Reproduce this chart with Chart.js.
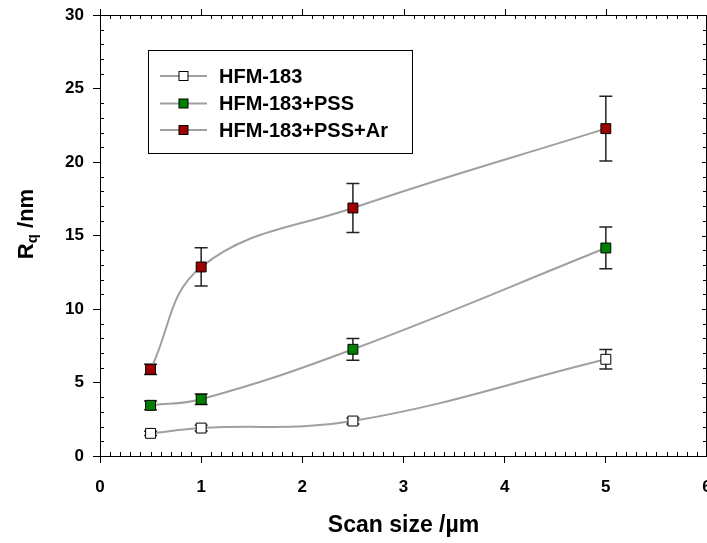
<!DOCTYPE html>
<html>
<head>
<meta charset="utf-8">
<script src="https://cdn.jsdelivr.net/npm/chart.js@4.4.1/dist/chart.umd.min.js"></script>
<style>
  html, body { margin: 0; padding: 0; background: #fff; overflow: hidden; }
  #wrap { position: relative; width: 707px; height: 543px; overflow: hidden; }
  canvas { display: block; }
</style>
</head>
<body>
<div id="wrap"><canvas id="c" width="715" height="543"></canvas></div>
<script>
// ---- data ----
const scanSizes = [0.5, 1, 2.5, 5];
const seriesNames = ['HFM-183', 'HFM-183+PSS', 'HFM-183+PSS+Ar'];
const hfmValues = [1.54, 1.90, 2.38, 6.58];
const hfmErrors = [0.15, 0.20, 0.20, 0.67];
const pssValues = [3.45, 3.86, 7.26, 14.15];
const pssErrors = [0.30, 0.35, 0.74, 1.42];
const arValues = [5.90, 12.86, 16.87, 22.27];
const arErrors = [0.35, 1.30, 1.66, 2.21];
const xTicks = [0, 1, 2, 3, 4, 5, 6];
const yTicks = [0, 5, 10, 15, 20, 25, 30];
const xTitle = 'Scan size /\u00b5m';
const yTitleMain = 'R';
const yTitleSub = 'q';
const yTitleRest = ' /nm';

const FONT = "'Liberation Sans', Arial, sans-serif";
const markerFill = ['#ffffff', '#008000', '#a00000'];

function toPoints(vals) { return scanSizes.map((x, i) => ({ x: x, y: vals[i] })); }
const allErrors = [hfmErrors, pssErrors, arErrors];

const datasets = [hfmValues, pssValues, arValues].map((vals, k) => ({
  label: seriesNames[k],
  data: toPoints(vals),
  showLine: true,
  borderColor: '#a0a0a0',
  borderWidth: 2,
  tension: 0.4,
  pointStyle: 'rect',
  pointRadius: 7,
  pointHoverRadius: 7,
  pointBackgroundColor: markerFill[k],
  pointBorderColor: '#000000',
  pointBorderWidth: 1,
  errors: allErrors[k]
}));

// error bars drawn through the scales, under lines and markers
const errorBarPlugin = {
  id: 'errorBars',
  beforeDatasetsDraw(chart) {
    const ctx = chart.ctx;
    const xs = chart.scales.x, ys = chart.scales.y;
    ctx.save();
    ctx.strokeStyle = '#222';
    ctx.lineWidth = 1.5;
    chart.data.datasets.forEach((ds) => {
      ds.data.forEach((p, i) => {
        const e = ds.errors[i];
        const px = xs.getPixelForValue(p.x);
        const top = ys.getPixelForValue(p.y + e);
        const bot = ys.getPixelForValue(p.y - e);
        ctx.beginPath();
        ctx.moveTo(px, top); ctx.lineTo(px, bot);
        ctx.moveTo(px - 6.5, top); ctx.lineTo(px + 6.5, top);
        ctx.moveTo(px - 6.5, bot); ctx.lineTo(px + 6.5, bot);
        ctx.stroke();
      });
    });
    ctx.restore();
  }
};

// frame: top/right lines, minor ticks, y title and legend
const framePlugin = {
  id: 'frame',
  afterDraw(chart) {
    const ctx = chart.ctx;
    const a = chart.chartArea;
    const xs = chart.scales.x, ys = chart.scales.y;
    ctx.save();
    ctx.strokeStyle = '#000';
    ctx.lineWidth = 1;
    ctx.beginPath();
    ctx.moveTo(a.left, a.top + 0.5); ctx.lineTo(a.right, a.top + 0.5);
    ctx.moveTo(a.right - 0.5, a.top); ctx.lineTo(a.right - 0.5, a.bottom);
    for (let i = 1; i < 60; i++) {
      if (i % 10 === 0) continue;
      const px = Math.round(xs.getPixelForValue(i / 10)) + 0.5;
      ctx.moveTo(px, a.bottom); ctx.lineTo(px, a.bottom - 4);
      ctx.moveTo(px, a.top); ctx.lineTo(px, a.top + 4);
    }
    xTicks.forEach(v => {
      const px = Math.round(xs.getPixelForValue(v)) + 0.5;
      ctx.moveTo(px, a.top); ctx.lineTo(px, a.top - 6);
    });
    for (let v = 1; v < 30; v++) {
      if (v % 5 === 0) continue;
      const py = Math.round(ys.getPixelForValue(v)) + 0.5;
      ctx.moveTo(a.left, py); ctx.lineTo(a.left + 4, py);
      ctx.moveTo(a.right, py); ctx.lineTo(a.right - 4, py);
    }
    yTicks.forEach(v => {
      const py = Math.round(ys.getPixelForValue(v)) + 0.5;
      ctx.moveTo(a.right, py); ctx.lineTo(a.right - 5, py);
    });
    ctx.stroke();

    // y title with subscript
    ctx.fillStyle = '#000';
    ctx.translate(33, 224);
    ctx.rotate(-Math.PI / 2);
    ctx.textBaseline = 'alphabetic';
    const fMain = 'bold 22px ' + FONT, fSub = 'bold 15px ' + FONT;
    ctx.font = fMain; const w1 = ctx.measureText(yTitleMain).width;
    const w3 = ctx.measureText(yTitleRest).width;
    ctx.font = fSub; const w2 = ctx.measureText(yTitleSub).width;
    let x0 = -(w1 + w2 + w3) / 2;
    ctx.font = fMain; ctx.fillText(yTitleMain, x0, 0);
    ctx.font = fSub; ctx.fillText(yTitleSub, x0 + w1, 4);
    ctx.font = fMain; ctx.fillText(yTitleRest, x0 + w1 + w2, 0);
    ctx.restore();

    // legend box
    ctx.save();
    const lx = 148.5, ly = 50.5, lw = 264, lh = 103;
    ctx.strokeStyle = '#000'; ctx.lineWidth = 1;
    ctx.fillStyle = '#fff';
    ctx.fillRect(lx, ly, lw, lh);
    ctx.strokeRect(lx, ly, lw, lh);
    const rows = [76, 103.5, 130];
    ctx.font = 'bold 20px ' + FONT;
    ctx.textBaseline = 'middle';
    chart.data.datasets.forEach((ds, k) => {
      const y = rows[k];
      ctx.strokeStyle = '#a0a0a0'; ctx.lineWidth = 2;
      ctx.beginPath(); ctx.moveTo(160, y); ctx.lineTo(207, y); ctx.stroke();
      ctx.fillStyle = ds.pointBackgroundColor;
      ctx.strokeStyle = '#000'; ctx.lineWidth = 1;
      ctx.fillRect(179, y - 4.5, 9, 9);
      ctx.strokeRect(179, y - 4.5, 9, 9);
      ctx.fillStyle = '#000';
      ctx.fillText(ds.label, 219, y + 1);
    });
    ctx.restore();
  }
};

new Chart(document.getElementById('c'), {
  type: 'scatter',
  data: { datasets: datasets },
  options: {
    responsive: false,
    animation: false,
    events: [],
    layout: { padding: { top: 15, right: 1, left: 0, bottom: 0 } },
    plugins: { legend: { display: false }, tooltip: { enabled: false } },
    scales: {
      x: {
        type: 'linear', min: 0, max: 6,
        afterBuildTicks: (s) => { s.ticks = xTicks.map(v => ({ value: v })); },
        afterFit: (s) => { s.height = 87; s.paddingLeft = 0; s.paddingRight = 0; },
        ticks: { color: '#000', font: { family: FONT, size: 17, weight: 'bold' }, padding: 14, maxRotation: 0 },
        grid: { display: true, drawOnChartArea: false, drawTicks: true, tickLength: 7, color: '#000' },
        border: { display: true, color: '#000', width: 1 },
        title: { display: true, text: xTitle, color: '#000', font: { family: FONT, size: 23, weight: 'bold' }, padding: { top: 18 } }
      },
      y: {
        type: 'linear', min: 0, max: 30,
        afterBuildTicks: (s) => { s.ticks = yTicks.map(v => ({ value: v })); },
        afterFit: (s) => { s.width = 100; s.paddingTop = 0; s.paddingBottom = 0; },
        ticks: { color: '#000', font: { family: FONT, size: 17, weight: 'bold' }, padding: 9 },
        grid: { display: true, drawOnChartArea: false, drawTicks: true, tickLength: 7, color: '#000' },
        border: { display: true, color: '#000', width: 1 }
      }
    }
  },
  plugins: [errorBarPlugin, framePlugin]
});
</script>
</body>
</html>
